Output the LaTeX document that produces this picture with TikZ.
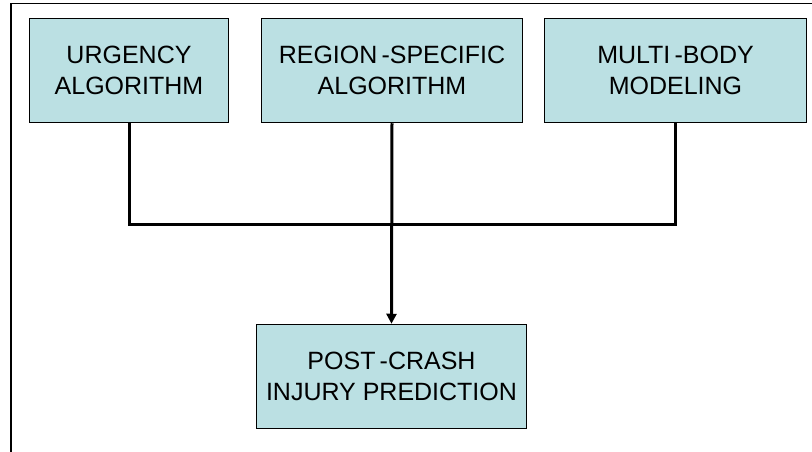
\documentclass[tikz,border=0pt]{standalone}
\usepackage{fontspec}
\setmainfont{Liberation Sans}
\usepackage{xcolor}
\usetikzlibrary{calc, positioning, arrows.meta}
\definecolor{boxfill}{RGB}{187,224,227}
\tikzset{
    stagebox/.style={draw=black, line width=1.5pt, fill=boxfill, align=center,
        inner sep=0pt, minimum height=104pt,
        font=\fontsize{25}{31}\selectfont},
    link/.style={line width=3pt}
}
\begin{document}
\begin{tikzpicture}[x=1pt, y=-1pt, >={Triangle[length=10pt, width=10pt]}]
    \useasboundingbox (0, 0) rectangle (812, 452);
    \draw[line width=1.5pt] (11, 452) -- (11, 3.5) -- (812, 3.5);

    \node[stagebox, minimum width=199pt] (urgency) at (129, 70.5) {URGENCY\\ALGORITHM};
    \node[stagebox, minimum width=261pt] (region) at (392, 70.5) {REGION\,-SPECIFIC\\ALGORITHM};
    \node[stagebox, minimum width=262pt] (multibody) at (675.5, 70.5) {MULTI\,-BODY\\MODELING};

    \node[stagebox, minimum width=270pt] (injury) at (391.5, 376.5) {POST\,-CRASH\\INJURY PREDICTION};

    \coordinate (busL) at ($(urgency.south) + (0, 101)$);
    \coordinate (busR) at ($(multibody.south) + (0, 101)$);

    \draw[link] (urgency.south) -- (busL) -- (busR) -- (multibody.south);
    \draw[link, ->] (region.south) -- (injury.north);
\end{tikzpicture}
\end{document}
